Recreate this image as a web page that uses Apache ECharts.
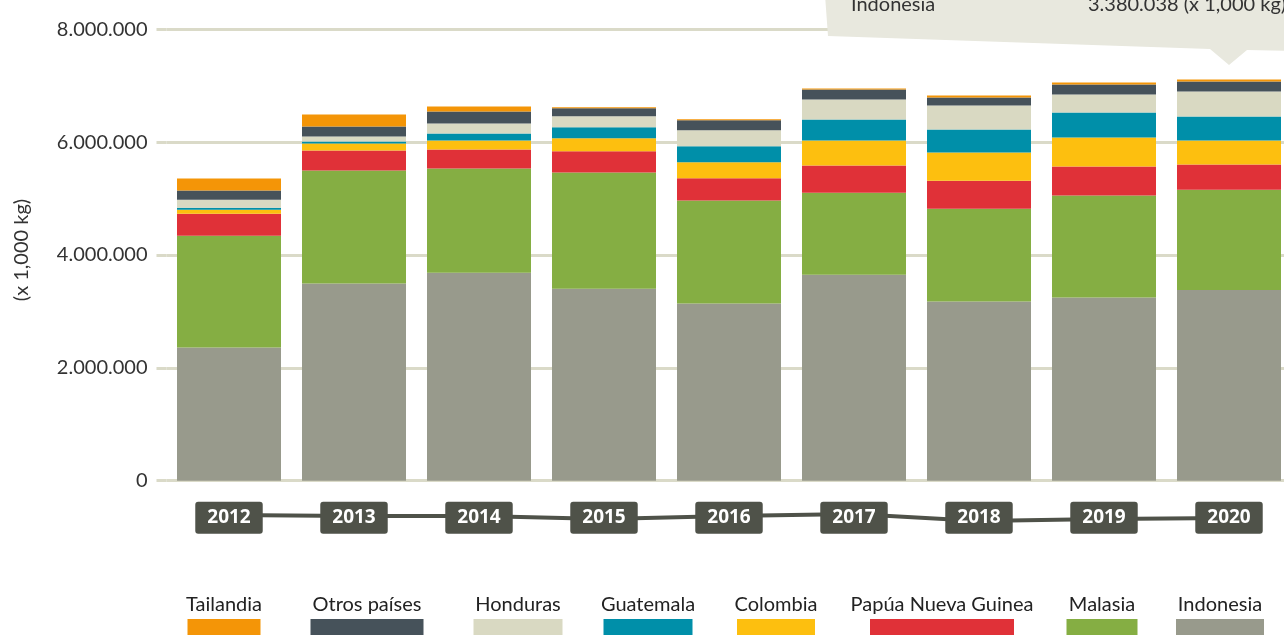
<!DOCTYPE html>
<html>
<head>
<meta charset="utf-8">
<script src="https://cdn.jsdelivr.net/npm/echarts@6/dist/echarts.min.js"></script>
<style>
  html, body { margin: 0; padding: 0; background: #fff; }
  #main { width: 1284px; height: 635px; }
</style>
</head>
<body>
<div id="main"></div>
<script>
// años y producción por país (x 1,000 kg)
var years = ['2012', '2013', '2014', '2015', '2016', '2017', '2018', '2019', '2020'];
var indonesia = [2360000, 3496000, 3686000, 3402000, 3141000, 3650000, 3177000, 3248000, 3380038];
var malasia   = [1982000, 2000000, 1846000, 2058000, 1827000, 1455000, 1644000, 1805000, 1775000];
var papua     = [390000, 355000, 337000, 377000, 390000, 480000, 497000, 514000, 448000];
var colombia  = [71000, 124000, 159000, 231000, 284000, 443000, 497000, 515000, 425000];
var guatemala = [36000, 35000, 127000, 195000, 284000, 373000, 408000, 443000, 426000];
var honduras  = [142000, 89000, 177000, 195000, 284000, 355000, 426000, 320000, 444000];
var otros     = [160000, 178000, 213000, 142000, 178000, 178000, 142000, 177000, 177000];
var tailandia = [213000, 213000, 89000, 18000, 17000, 17000, 36000, 36000, 36000];

var seriesDefs = [
    { name: 'Indonesia', data: indonesia, color: '#989a8c' },
    { name: 'Malasia', data: malasia, color: '#85ae43' },
    { name: 'Papúa Nueva Guinea', data: papua, color: '#e03138' },
    { name: 'Colombia', data: colombia, color: '#fdbf0f' },
    { name: 'Guatemala', data: guatemala, color: '#008fa9' },
    { name: 'Honduras', data: honduras, color: '#d9d9c2' },
    { name: 'Otros países', data: otros, color: '#46525a' },
    { name: 'Tailandia', data: tailandia, color: '#f49507' }
];

// leyenda: orden y posición
var legendOrder = ['Tailandia', 'Otros países', 'Honduras', 'Guatemala', 'Colombia', 'Papúa Nueva Guinea', 'Malasia', 'Indonesia'];
var legendCenters = [224, 367, 518, 648, 776, 942, 1102, 1220];
var legendWidths = [73, 113, 89, 89, 78, 144, 71, 88];
// pequeñas ondulaciones de la línea que une los años
var yearLineY = [515, 516, 516, 519, 516, 514, 521, 519, 518];

function fmt(v) {
    return String(v).replace(/\B(?=(\d{3})+(?!\d))/g, '.');
}

var myChart = echarts.init(document.getElementById('main'));

var option = {
    animation: false,
    textStyle: { fontFamily: 'Lato' },
    grid: {
        left: 166.5,
        right: -7.5,
        top: 29.3,
        bottom: 154.3,
        containLabel: false,
        outerBoundsMode: 'none'
    },
    xAxis: {
        type: 'category',
        data: years,
        z: 10,
        axisLine: { show: false },
        axisTick: { show: false },
        axisLabel: {
            margin: 21,
            color: '#ffffff',
            fontFamily: 'Open Sans',
            fontWeight: 'bold',
            fontSize: 19,
            lineHeight: 22,
            backgroundColor: '#4f5249',
            padding: [5, 12, 5, 12],
            borderRadius: 3
        }
    },
    yAxis: {
        type: 'value',
        min: 0,
        max: 8000000,
        interval: 2000000,
        name: '(x 1,000 kg)',
        nameLocation: 'middle',
        nameRotate: 90,
        nameGap: 135,
        nameTextStyle: { fontSize: 20, color: '#333', fontFamily: 'Lato', padding: [0, 0, 0, 10] },
        axisLine: { show: false },
        axisTick: {
            show: true,
            length: 10,
            lineStyle: { color: '#dadac8', width: 3 }
        },
        axisLabel: {
            margin: 19,
            fontSize: 20,
            color: '#333',
            fontFamily: 'Lato',
            formatter: function (v) { return fmt(v); }
        },
        splitLine: {
            show: true,
            lineStyle: { color: '#dadac8', width: 3 }
        }
    },
    series: seriesDefs.map(function (s) {
        return {
            name: s.name,
            type: 'bar',
            stack: 'total',
            barWidth: 104,
            data: s.data,
            itemStyle: { color: s.color },
            emphasis: { disabled: true }
        };
    })
};
myChart.setOption(option);

// línea que une las etiquetas de años, recuadro tipo tooltip y leyenda
var graphics = [];
var linePts = years.map(function (y, i) {
    var px = myChart.convertToPixel({ xAxisIndex: 0 }, y);
    return [px, yearLineY[i]];
});
graphics.push({
    type: 'polyline',
    z: 0,
    shape: { points: linePts },
    style: { stroke: '#4f5249', lineWidth: 4, fill: null }
});

var tipX = myChart.convertToPixel({ xAxisIndex: 0 }, years[8]);
graphics.push({
    type: 'polygon',
    z: 50,
    shape: {
        points: [[825, -5], [1300, -5], [1300, 51], [tipX + 18, 50], [tipX, 65], [tipX - 19, 49], [828, 36]]
    },
    style: { fill: '#e8e8de' }
});
graphics.push({
    type: 'text',
    z: 51,
    x: 851,
    y: 5,
    style: { text: 'Indonesia', fontSize: 20, fontFamily: 'Lato', fill: '#333', verticalAlign: 'middle' }
});
graphics.push({
    type: 'text',
    z: 51,
    x: 1088,
    y: 5,
    style: { text: fmt(indonesia[8]) + ' (x 1,000 kg)', fontSize: 20, fontFamily: 'Lato', fill: '#333', verticalAlign: 'middle' }
});

legendOrder.forEach(function (name, i) {
    var def = seriesDefs.filter(function (s) { return s.name === name; })[0];
    graphics.push({
        type: 'text',
        x: legendCenters[i],
        y: 605,
        style: { text: name, fontSize: 20, fontFamily: 'Lato', fill: '#222', align: 'center', verticalAlign: 'middle' }
    });
    graphics.push({
        type: 'rect',
        shape: { x: legendCenters[i] - legendWidths[i] / 2, y: 619, width: legendWidths[i], height: 20 },
        style: { fill: def.color }
    });
});

myChart.setOption({ graphic: graphics });

window.onresize = function () {
    myChart.resize();
};
</script>
</body>
</html>
